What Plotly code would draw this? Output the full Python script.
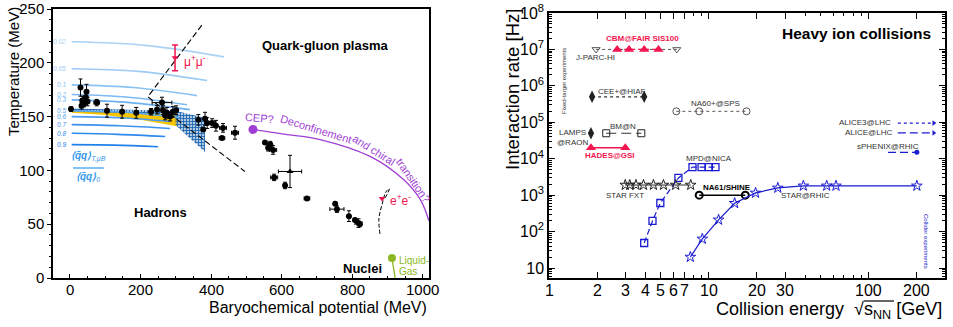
import plotly.graph_objects as go
import math

W, H = 953, 327
FONT = "Liberation Sans, Arial, Helvetica, sans-serif"

# ---------------- LEFT PANEL DATA (QCD phase diagram) ----------------
cond_levels = ["0.02", "0.05", "0.1", "0.2", "0.3", "0.5", "0.6", "0.7", "0.8", "0.9"]
cond_colors = ["#aad2f4", "#9ccbf4", "#8cc2f3", "#7db9f2", "#6eb1f1", "#5aa6f0",
               "#4c9cef", "#3d92ee", "#2f88ec", "#2080ea"]
cond_mu = [[5, 220, 437], [5, 195, 389], [5, 180, 360], [5, 166, 332], [5, 170, 340],
           [5, 156, 312], [5, 142, 284], [5, 142, 284], [5, 135, 270], [5, 125, 250]]
cond_T = [[219.5, 216, 205.5], [194.5, 192, 183.5], [179.5, 177, 169.5], [170.5, 168, 161],
          [165.5, 163, 156.5], [155.5, 154, 149], [150, 149, 145.5], [142.5, 141.5, 139],
          [134.5, 133.5, 131.5], [124, 123.5, 122]]

yellow_mu = [5, 100, 200, 303]
yellow_top = [155.5, 155, 153.5, 152]
yellow_bot = [153.5, 151.5, 147, 141]

checker_mu = [5, 100, 200, 298, 383, 383, 300, 298, 200, 100, 5]
checker_T = [157.5, 157, 156.5, 155.5, 149, 117, 142, 151, 153, 154, 154.5]

fo_mu = [3, 30, 47, 35, 40, 45, 50, 33, 76, 105, 148, 188, 230, 247, 261, 264, 270, 275, 284,
         292, 301, 364, 383, 378, 389, 403, 414, 434, 431, 468, 553, 562, 568, 576, 579, 610,
         672, 752, 757, 791, 808, 818, 822]
fo_T = [157, 177, 173, 165, 162, 168, 164, 160, 163, 155.5, 154.5, 153.5, 154.5, 156.5, 163,
        156, 151, 153.5, 150, 154.5, 156, 147, 148, 138, 144, 144, 141.5, 139.5, 130, 135,
        126, 121, 124, 119, 93.5, 86, 74, 69, 64, 57.5, 54, 51, 50]
fo_xerr = [0, 0, 0, 0, 0, 0, 0, 0, 8, 0, 0, 0, 0, 0, 28, 0, 0, 0, 0, 0, 0, 0, 0, 0, 0, 10, 0,
           10, 8, 10, 0, 0, 0, 10, 10, 0, 8, 0, 20, 0, 0, 10, 0]
fo_yerr = [2, 8, 7, 4, 3, 5, 4, 3, 3, 6, 6, 5, 3, 4, 5, 4, 4, 5, 4, 5, 4, 5, 6, 0, 5, 4, 5,
           4, 0, 6, 0, 3, 3, 4, 3, 3, 0, 0, 3, 5, 0, 4, 0]
tri_mu, tri_T, tri_xerr, tri_yerr = [624], [99], [33], [15]

traj_mu = [374, 221, 241, 496]
traj_T = [235, 168.5, 163, 99]

mumu_mu, mumu_T, mumu_err = [298], [204.6], [12]
ee_mu, ee_T = [885], [74]
ee_traj_mu = [879, 876, 885, 896, 906, 893]
ee_traj_T = [41, 55, 68.5, 80, 83, 74]

cep_mu = [519, 616, 709, 851, 945, 993, 1018]
cep_T = [138, 133.3, 128.7, 113, 91.7, 73, 53]

lg_mu = [913, 922]
lg_T = [18.5, 0]

left_xticks = [0, 200, 400, 600, 800, 1000]
left_yticks = [0, 50, 100, 150, 200, 250]

# ---------------- RIGHT PANEL DATA (interaction rates) ----------------
jparc_E, jparc_R = [1.97, 6.3], [1e7, 1e7]
cbm_E, cbm_R = [2.67, 3.17, 3.94, 4.84], [1e7, 1e7, 1e7, 1e7]
cee_E, cee_R = [1.86, 3.94], [5e5, 5e5]
lamps_E, lamps_R = [1.83], [5e4]
bmn_E, bmn_R = [2.28, 3.78], [5e4, 5e4]
hades_E, hades_R = [1.83, 3.0], [2e4, 2e4]
na60_E, na60_R = [6.26, 8.7, 17.2], [2e5, 2e5, 2e5]
alice3_E, alice3_R = [152, 255], [9.5e4, 9.5e4]
alice_E, alice_R = [152, 255], [5.1e4, 5.1e4]
sphenix_E, sphenix_R = [132, 200], [1.5e4, 1.5e4]
mpd_E = [3.94, 4.44, 4.97, 6.45, 7.9, 9.0, 10, 11]
mpd_R = [48.5, 196, 608, 2960, 5900, 5900, 5900, 5900]
fxt_E = [3.0, 3.2, 3.5, 3.9, 4.5, 5.2, 6.2, 7.7]
fxt_R = [1900, 1900, 1900, 1900, 1900, 1900, 1900, 1900]
na61_E, na61_R = [8.7, 16.9], [1000, 1000]
star_E = [7.66, 9.1, 11.5, 14.5, 19.6, 27, 39, 54.6, 62.4, 200]
star_R = [20, 63, 210, 600, 1150, 1580, 1800, 1800, 1800, 1800]

right_xticks = [1, 2, 3, 4, 5, 6, 7, 10, 20, 30, 100, 200]
right_yticks = [10, 1e2, 1e3, 1e4, 1e5, 1e6, 1e7, 1e8]
right_yticktext = ["10", "10<sup>2</sup>", "10<sup>3</sup>", "10<sup>4</sup>", "10<sup>5</sup>",
                   "10<sup>6</sup>", "10<sup>7</sup>", "10<sup>8</sup>"]

RED = "#f2154f"
BLUE = "#1b1bd0"
GRAY = "#555555"
PURPLE = "#a03fd6"

# ---------------- FIGURE ----------------
def px(x):
    return x / W

def py(y):
    return 1 - y / H

fig = go.Figure()
L = dict(xaxis="x", yaxis="y", showlegend=False, hoverinfo="skip")
R = dict(xaxis="x2", yaxis="y2", showlegend=False, hoverinfo="skip")

# yellow band
fig.add_trace(go.Scatter(x=yellow_mu + yellow_mu[::-1], y=yellow_top + yellow_bot[::-1],
                         fill="toself", fillcolor="#f6c400", line=dict(width=0), mode="lines", **L))
# checkered band
fig.add_trace(go.Scatter(x=checker_mu, y=checker_T, fill="toself", mode="lines",
                         line=dict(width=0), fillcolor="rgba(31,103,176,0.35)",
                         fillpattern=dict(shape="+", fgcolor="#1f67b0", fgopacity=1,
                                          size=3, solidity=0.5), **L))
# condensate contours
for lev, col, mus, ts in zip(cond_levels, cond_colors, cond_mu, cond_T):
    fig.add_trace(go.Scatter(x=mus, y=ts, mode="lines", line=dict(color=col, width=1.6, shape="spline"), **L))

# trajectory
fig.add_trace(go.Scatter(x=traj_mu, y=traj_T, mode="lines", line=dict(color="black", width=1.1, dash="6px,3px"), **L))
fig.add_trace(go.Scatter(x=ee_traj_mu, y=ee_traj_T, mode="lines",
                         line=dict(color="black", width=1, dash="4px,2px", shape="spline"), **L))

# freeze-out points
fig.add_trace(go.Scatter(x=fo_mu, y=fo_T, mode="markers",
                         marker=dict(symbol="circle", size=6, color="black"),
                         error_x=dict(type="data", array=fo_xerr, color="black", thickness=1, width=2),
                         error_y=dict(type="data", array=fo_yerr, color="black", thickness=1, width=2), **L))
fig.add_trace(go.Scatter(x=tri_mu, y=tri_T, mode="markers",
                         marker=dict(symbol="triangle-up", size=6, color="black"),
                         error_x=dict(type="data", array=tri_xerr, color="black", thickness=1, width=2),
                         error_y=dict(type="data", array=tri_yerr, color="black", thickness=1, width=2), **L))

# dilepton points
fig.add_trace(go.Scatter(x=mumu_mu, y=mumu_T, mode="markers",
                         marker=dict(symbol="triangle-down", size=6, color=RED),
                         error_y=dict(type="data", array=mumu_err, color=RED, thickness=1.5, width=3), **L))
fig.add_trace(go.Scatter(x=ee_mu, y=ee_T, mode="markers",
                         marker=dict(symbol="triangle-down", size=6, color=RED), **L))

# CEP line
fig.add_trace(go.Scatter(x=cep_mu, y=cep_T, mode="lines", line=dict(color=PURPLE, width=1.3, shape="spline"), **L))
fig.add_trace(go.Scatter(x=cep_mu[:1], y=cep_T[:1], mode="markers", marker=dict(size=9, color=PURPLE), **L))
# Liquid-gas
fig.add_trace(go.Scatter(x=lg_mu, y=lg_T, mode="lines", line=dict(color="#8cb823", width=1.3), **L))
fig.add_trace(go.Scatter(x=lg_mu[:1], y=lg_T[:1], mode="markers", marker=dict(size=8, color="#8cb823"), **L))

# ---------------- right panel traces ----------------
fig.add_trace(go.Scatter(x=jparc_E, y=jparc_R, mode="lines+markers",
                         line=dict(color=GRAY, width=1, dash="dot"),
                         marker=dict(symbol="triangle-down-open", size=7, color=GRAY), **R))
fig.add_trace(go.Scatter(x=cbm_E, y=cbm_R, mode="lines+markers",
                         line=dict(color=RED, width=1.2, dash="4px,3px"),
                         marker=dict(symbol="triangle-up", size=9, color=RED), **R))
fig.add_trace(go.Scatter(x=cee_E, y=cee_R, mode="lines+markers",
                         line=dict(color="#333333", width=1.2, dash="dot"),
                         marker=dict(symbol="diamond-tall", size=9, color="#222222"), **R))
fig.add_trace(go.Scatter(x=lamps_E, y=lamps_R, mode="markers",
                         marker=dict(symbol="diamond-tall", size=9, color="#222222"), **R))
fig.add_trace(go.Scatter(x=bmn_E, y=bmn_R, mode="lines+markers",
                         line=dict(color="#333333", width=1, dash="10px,5px"),
                         marker=dict(symbol="square-open", size=7, color="#222222"), **R))
fig.add_trace(go.Scatter(x=hades_E, y=hades_R, mode="lines+markers",
                         line=dict(color=RED, width=1.3),
                         marker=dict(symbol="triangle-up", size=9, color=RED), **R))
fig.add_trace(go.Scatter(x=na60_E, y=na60_R, mode="lines+markers",
                         line=dict(color=GRAY, width=1, dash="dot"),
                         marker=dict(symbol="circle-open", size=7, color=GRAY), **R))
fig.add_trace(go.Scatter(x=alice3_E, y=alice3_R, mode="lines", line=dict(color=BLUE, width=1.3, dash="dot"), **R))
fig.add_trace(go.Scatter(x=alice3_E[-1:], y=alice3_R[-1:], mode="markers",
                         marker=dict(symbol="triangle-right", size=5, color=BLUE), **R))
fig.add_trace(go.Scatter(x=alice_E, y=alice_R, mode="lines", line=dict(color=BLUE, width=1.3, dash="8px,4px"), **R))
fig.add_trace(go.Scatter(x=alice_E[-1:], y=alice_R[-1:], mode="markers",
                         marker=dict(symbol="triangle-right", size=5, color=BLUE), **R))
fig.add_trace(go.Scatter(x=sphenix_E, y=sphenix_R, mode="lines", line=dict(color=BLUE, width=1.3, dash="8px,4px"), **R))
fig.add_trace(go.Scatter(x=sphenix_E[-1:], y=sphenix_R[-1:], mode="markers",
                         marker=dict(symbol="circle", size=5, color=BLUE), **R))
fig.add_trace(go.Scatter(x=mpd_E, y=mpd_R, mode="lines+markers",
                         line=dict(color=BLUE, width=1.2, dash="6px,3px"),
                         marker=dict(symbol="square-open", size=7, color=BLUE, line=dict(width=1.3)), **R))
fig.add_trace(go.Scatter(x=fxt_E, y=fxt_R, mode="lines+markers",
                         line=dict(color="#333333", width=1.2),
                         marker=dict(symbol="star-open", size=8, color="#222222"), **R))
fig.add_trace(go.Scatter(x=na61_E, y=na61_R, mode="lines+markers",
                         line=dict(color="black", width=1.5),
                         marker=dict(symbol="circle-open", size=7, color="black", line=dict(width=2)), **R))
fig.add_trace(go.Scatter(x=star_E, y=star_R, mode="lines+markers",
                         line=dict(color=BLUE, width=1.2),
                         marker=dict(symbol="star-open", size=8, color=BLUE), **R))

# ---------------- axes ----------------
minor_x2 = [m * 10 ** d for d in range(0, 3) for m in range(2, 10) if m * 10 ** d <= 300]
minor_y2 = [m * 10 ** d for d in range(0, 8) for m in range(2, 10)]

ax_common = dict(showgrid=False, zeroline=False, showline=True, linecolor="black", linewidth=1.5,
                 tickcolor="black", automargin=False)
tf_left = dict(family=FONT, size=15, color="black")
tf_right = dict(family=FONT, size=16, color="black")

fig.update_layout(
    width=W, height=H, margin=dict(l=0, r=0, t=0, b=0, autoexpand=False),
    paper_bgcolor="white", plot_bgcolor="white", showlegend=False,
    font=dict(family=FONT, color="black"),
    xaxis=dict(domain=[px(53), px(429)], range=[-48, 1018], anchor="y", mirror=True,
               tickmode="array", tickvals=left_xticks, ticks="inside", ticklen=4, showticklabels=False,
               minor=dict(ticks="inside", ticklen=2.5, dtick=50, tickcolor="black"), **ax_common),
    yaxis=dict(domain=[py(278), py(9)], range=[0, 250], anchor="x", mirror=True,
               tickmode="array", tickvals=left_yticks, ticks="outside", ticklen=4, tickfont=tf_left,
               minor=dict(ticks="outside", ticklen=2.5, dtick=10, tickcolor="black"), **ax_common),
    xaxis2=dict(domain=[px(549), px(945)], type="log", range=[0, math.log10(300)], anchor="y2",
                mirror="allticks", tickmode="array", tickvals=right_xticks, showticklabels=False,
                ticks="inside", ticklen=6,
                minor=dict(ticks="inside", ticklen=3, tickvals=minor_x2, tickcolor="black"), **ax_common),
    yaxis2=dict(domain=[py(278), py(13)], type="log", range=[0.7255, 8], anchor="x2",
                mirror="allticks", tickmode="array", tickvals=right_yticks, ticktext=right_yticktext,
                ticks="inside", ticklen=6, tickfont=tf_right,
                minor=dict(ticks="inside", ticklen=3, tickvals=minor_y2, tickcolor="black"), **ax_common),
)

annotations = []

def ann(text, x, y, size, color="black", xanchor="center", angle=0, yanchor="middle"):
    annotations.append(dict(text=text, x=px(x), y=py(y), xref="paper", yref="paper",
                            xanchor=xanchor, yanchor=yanchor, showarrow=False, textangle=angle,
                            font=dict(family=FONT, size=size, color=color)))

# x tick labels (placed on each axis' own scale, just under the axis line)
for v in left_xticks:
    annotations.append(dict(text=str(v), x=v, y=py(289), xref="x", yref="paper", xanchor="center",
                            yanchor="middle", showarrow=False, font=tf_left))
for v in right_xticks:
    annotations.append(dict(text=str(v), x=math.log10(v), y=py(290), xref="x2", yref="paper",
                            xanchor="center", yanchor="middle", showarrow=False, font=tf_right))

# axis titles
ann("Temperature (MeV)", 13, 72, 15, angle=-90)
ann("Baryochemical potential (MeV)", 429, 307, 16, xanchor="right")
ann("Interaction rate [Hz]", 512, 90, 18.5, angle=-90)
ann("Collision energy  √s<sub>NN</sub> [GeV]", 944, 310, 18, xanchor="right")

# left panel labels
ann("<b>Quark-gluon plasma</b>", 325, 45, 13)
ann("<b>Hadrons</b>", 160, 212, 13)
ann("<b>Nuclei</b>", 362, 268, 13)
ann("μ<sup>+</sup>μ<sup>-</sup>", 182, 61, 12, color=RED, xanchor="left")
ann("e<sup>+</sup>e<sup>-</sup>", 388, 200, 12, color=RED, xanchor="left")
ann("Liquid-", 397, 260, 10, color="#8cb823", xanchor="left")
ann("Gas", 397, 271, 10, color="#8cb823", xanchor="left")
ann("CEP?", 259, 118, 11, color=PURPLE, angle=5)
ann("Deconfinement", 316, 129, 11, color=PURPLE, angle=17)
ann("and chiral", 374, 150, 11, color=PURPLE, angle=32)
ann("transition?", 413, 180, 11, color=PURPLE, angle=55)
ann("<b><i>⟨q̄q⟩</i></b><sub><i>T,μB</i></sub>", 88, 157, 10, color="#3399ee")
ann("<b><i>⟨q̄q⟩</i></b><sub><i>0</i></sub>", 88, 177, 10, color="#3399ee")
for lev, col, ts in zip(cond_levels, cond_colors, cond_T):
    annotations.append(dict(text="<i>" + lev + "</i>", x=-6, y=ts[0], xref="x", yref="y",
                            xanchor="right", yanchor="middle", showarrow=False,
                            font=dict(family=FONT, size=6.5, color=col)))

# right panel labels
ann("<b>Heavy ion collisions</b>", 856, 33, 15.5)
ann("<b>CBM@FAIR SIS100</b>", 642, 38, 8, color=RED)
ann("J-PARC-HI", 595, 57, 8, color="#333333")
ann("CEE+@HIAF", 622, 91, 8, color="#333333")
ann("NA60+@SPS", 715, 103, 8, color="#333333")
ann("LAMPS", 572, 133, 8, color="#333333")
ann("@RAON", 572, 142, 8, color="#333333")
ann("BM@N", 623, 126, 8, color="#333333")
ann("<b>HADES@GSI</b>", 610, 155, 8, color=RED)
ann("MPD@NICA", 709, 158, 8, color="#333333")
ann("STAR FXT", 625, 195, 8, color="#333333")
ann("<b>NA61/SHINE</b>", 727, 187, 8, color="black")
ann("STAR@RHIC", 805, 195, 8, color="#333333")
ann("ALICE3@LHC", 893, 123, 8, color="#333333", xanchor="right")
ann("ALICE@LHC", 894, 133, 8, color="#333333", xanchor="right")
ann("sPHENIX@RHIC", 888, 146, 8, color="#333333")
ann("Fixed-target experiments", 564, 81, 6, color="#333333", angle=-90)
ann("Collider experiments", 926, 241, 6, color=BLUE, angle=90)

fig.update_layout(annotations=annotations)

fig.add_shape(type="line", xref="paper", yref="paper", x0=px(73), x1=px(104), y0=py(168), y1=py(168),
              line=dict(color="#3399ee", width=1.2))
fig.add_shape(type="line", xref="paper", yref="paper", x0=px(864), x1=px(894), y0=py(301), y1=py(301),
              line=dict(color="black", width=1.2))

fig.write_html("out.html", config={"displayModeBar": False},
               post_script="document.body.style.margin='0px';document.body.style.padding='0px';")
